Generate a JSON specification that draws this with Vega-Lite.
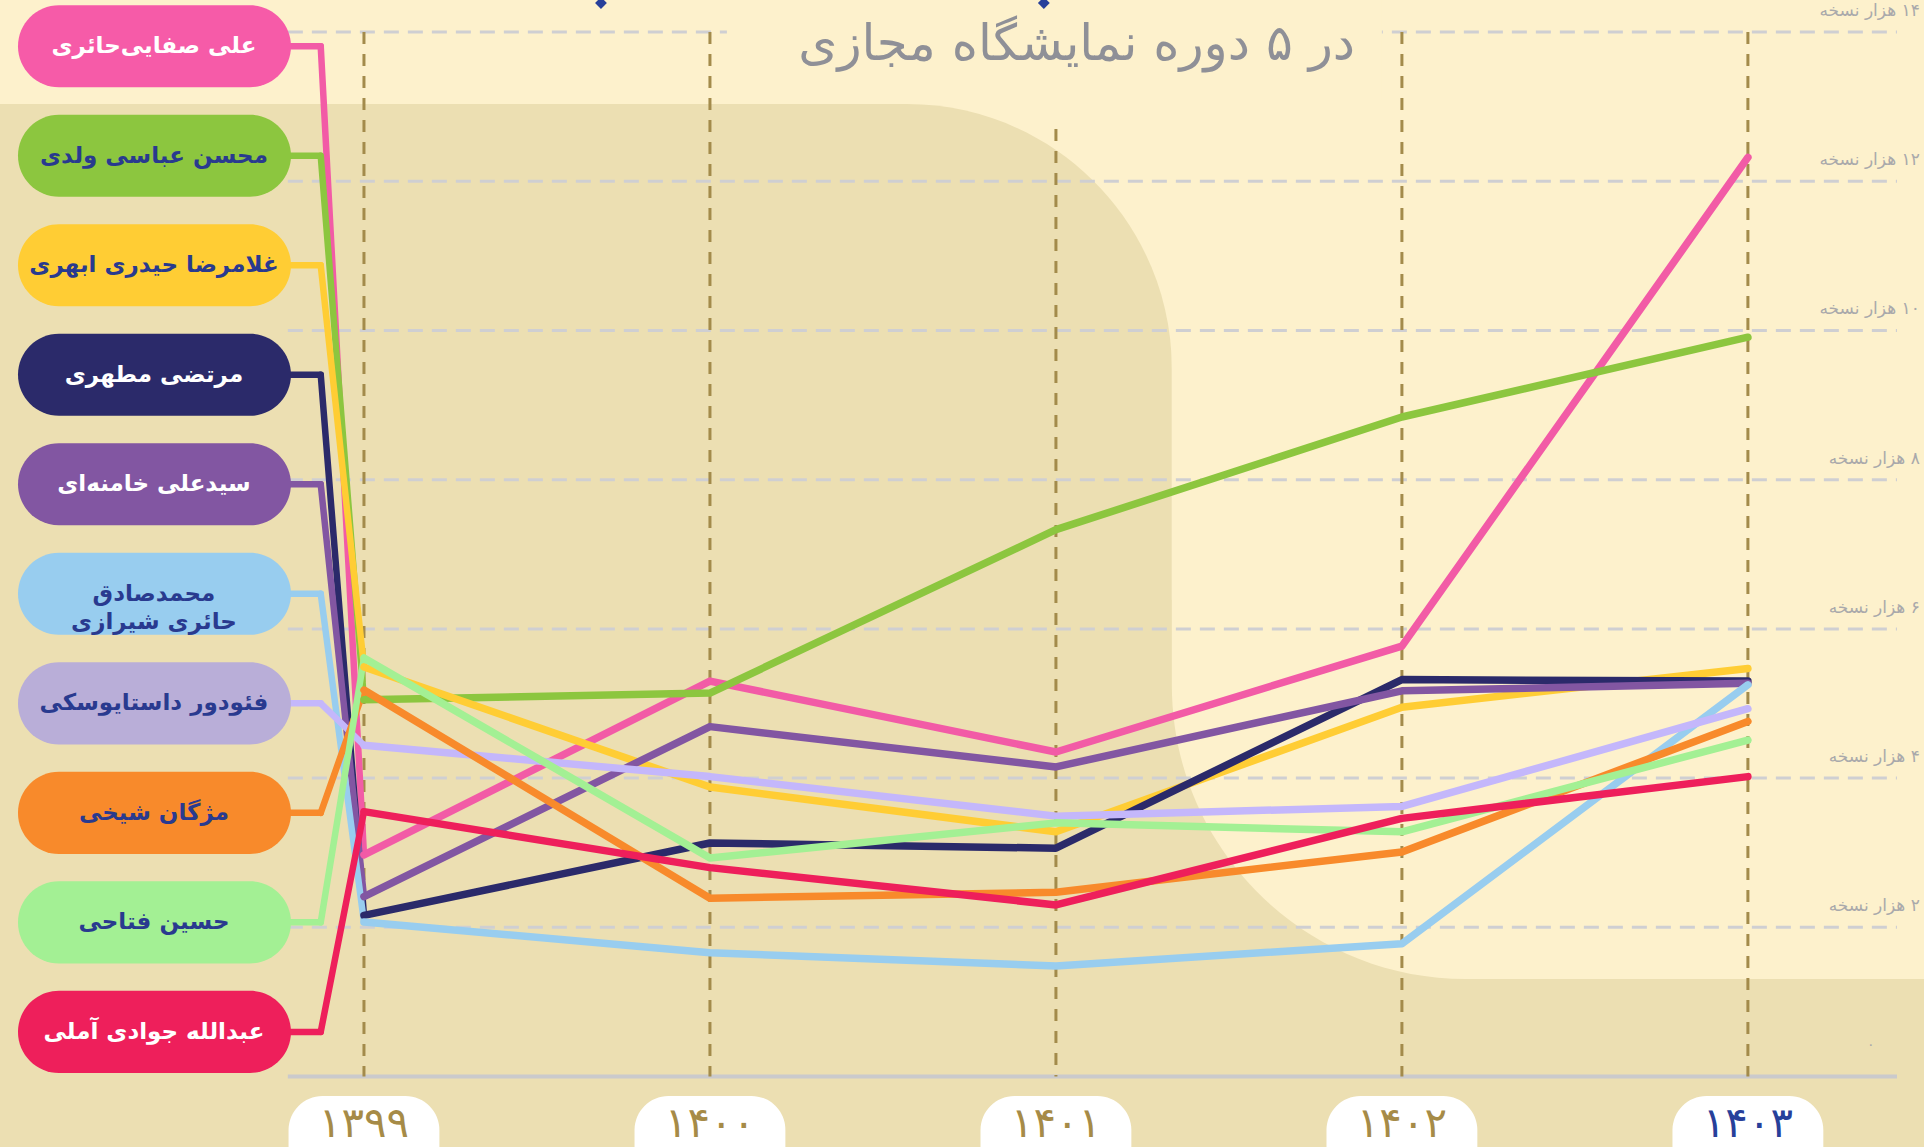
{
  "$schema": "https://vega.github.io/schema/vega-lite/v6.json",
  "width": 1924,
  "height": 1147,
  "autosize": {"type": "none"},
  "padding": 0,
  "background": "#FDF1CC",
  "config": {"view": {"stroke": null}, "font": "DejaVu Sans"},
  "datasets": {
    "authors": [
      {"author": "علی صفایی‌حائری", "order": 0, "label": "علی صفایی‌حائری"},
      {"author": "محسن عباسی ولدی", "order": 1, "label": "محسن عباسی ولدی"},
      {"author": "غلامرضا حیدری ابهری", "order": 2, "label": "غلامرضا حیدری ابهری"},
      {"author": "مرتضی مطهری", "order": 3, "label": "مرتضی مطهری"},
      {"author": "سیدعلی خامنه‌ای", "order": 4, "label": "سیدعلی خامنه‌ای"},
      {"author": "محمدصادق حائری شیرازی", "order": 5, "label": "محمدصادق\nحائری شیرازی"},
      {"author": "فئودور داستایوسکی", "order": 6, "label": "فئودور داستایوسکی"},
      {"author": "مژگان شیخی", "order": 7, "label": "مژگان شیخی"},
      {"author": "حسین فتاحی", "order": 8, "label": "حسین فتاحی"},
      {"author": "عبدالله جوادی آملی", "order": 9, "label": "عبدالله جوادی آملی"}
    ],
    "sales": [
      {"author": "علی صفایی‌حائری", "year": 1399, "copies": 2.97},
      {"author": "علی صفایی‌حائری", "year": 1400, "copies": 5.30},
      {"author": "علی صفایی‌حائری", "year": 1401, "copies": 4.35},
      {"author": "علی صفایی‌حائری", "year": 1402, "copies": 5.77},
      {"author": "علی صفایی‌حائری", "year": 1403, "copies": 12.32},
      {"author": "محسن عباسی ولدی", "year": 1399, "copies": 5.05},
      {"author": "محسن عباسی ولدی", "year": 1400, "copies": 5.14},
      {"author": "محسن عباسی ولدی", "year": 1401, "copies": 7.33},
      {"author": "محسن عباسی ولدی", "year": 1402, "copies": 8.84},
      {"author": "محسن عباسی ولدی", "year": 1403, "copies": 9.91},
      {"author": "غلامرضا حیدری ابهری", "year": 1399, "copies": 5.49},
      {"author": "غلامرضا حیدری ابهری", "year": 1400, "copies": 3.88},
      {"author": "غلامرضا حیدری ابهری", "year": 1401, "copies": 3.28},
      {"author": "غلامرضا حیدری ابهری", "year": 1402, "copies": 4.95},
      {"author": "غلامرضا حیدری ابهری", "year": 1403, "copies": 5.47},
      {"author": "مرتضی مطهری", "year": 1399, "copies": 2.16},
      {"author": "مرتضی مطهری", "year": 1400, "copies": 3.13},
      {"author": "مرتضی مطهری", "year": 1401, "copies": 3.06},
      {"author": "مرتضی مطهری", "year": 1402, "copies": 5.32},
      {"author": "مرتضی مطهری", "year": 1403, "copies": 5.30},
      {"author": "سیدعلی خامنه‌ای", "year": 1399, "copies": 2.41},
      {"author": "سیدعلی خامنه‌ای", "year": 1400, "copies": 4.69},
      {"author": "سیدعلی خامنه‌ای", "year": 1401, "copies": 4.15},
      {"author": "سیدعلی خامنه‌ای", "year": 1402, "copies": 5.17},
      {"author": "سیدعلی خامنه‌ای", "year": 1403, "copies": 5.27},
      {"author": "محمدصادق حائری شیرازی", "year": 1399, "copies": 2.07},
      {"author": "محمدصادق حائری شیرازی", "year": 1400, "copies": 1.66},
      {"author": "محمدصادق حائری شیرازی", "year": 1401, "copies": 1.48},
      {"author": "محمدصادق حائری شیرازی", "year": 1402, "copies": 1.78},
      {"author": "محمدصادق حائری شیرازی", "year": 1403, "copies": 5.25},
      {"author": "فئودور داستایوسکی", "year": 1399, "copies": 4.44},
      {"author": "فئودور داستایوسکی", "year": 1400, "copies": 4.02},
      {"author": "فئودور داستایوسکی", "year": 1401, "copies": 3.49},
      {"author": "فئودور داستایوسکی", "year": 1402, "copies": 3.62},
      {"author": "فئودور داستایوسکی", "year": 1403, "copies": 4.93},
      {"author": "مژگان شیخی", "year": 1399, "copies": 5.18},
      {"author": "مژگان شیخی", "year": 1400, "copies": 2.39},
      {"author": "مژگان شیخی", "year": 1401, "copies": 2.47},
      {"author": "مژگان شیخی", "year": 1402, "copies": 3.01},
      {"author": "مژگان شیخی", "year": 1403, "copies": 4.76},
      {"author": "حسین فتاحی", "year": 1399, "copies": 5.61},
      {"author": "حسین فتاحی", "year": 1400, "copies": 2.93},
      {"author": "حسین فتاحی", "year": 1401, "copies": 3.40},
      {"author": "حسین فتاحی", "year": 1402, "copies": 3.28},
      {"author": "حسین فتاحی", "year": 1403, "copies": 4.51},
      {"author": "عبدالله جوادی آملی", "year": 1399, "copies": 3.55},
      {"author": "عبدالله جوادی آملی", "year": 1400, "copies": 2.80},
      {"author": "عبدالله جوادی آملی", "year": 1401, "copies": 2.30},
      {"author": "عبدالله جوادی آملی", "year": 1402, "copies": 3.46},
      {"author": "عبدالله جوادی آملی", "year": 1403, "copies": 4.02}
    ],
    "years": [
      {"year": 1399, "label": "۱۳۹۹"},
      {"year": 1400, "label": "۱۴۰۰"},
      {"year": 1401, "label": "۱۴۰۱"},
      {"year": 1402, "label": "۱۴۰۲"},
      {"year": 1403, "label": "۱۴۰۳"}
    ],
    "ticks": [
      {"v": 2, "label": "‏۲ هزار نسخه"},
      {"v": 4, "label": "‏۴ هزار نسخه"},
      {"v": 6, "label": "‏۶ هزار نسخه"},
      {"v": 8, "label": "‏۸ هزار نسخه"},
      {"v": 10, "label": "‏۱۰ هزار نسخه"},
      {"v": 12, "label": "‏۱۲ هزار نسخه"},
      {"v": 14, "label": "‏۱۴ هزار نسخه"}
    ]
  },
  "layer": [
    {
      "data": {"values": [{"a": 1}]},
      "mark": {"type": "rect", "color": "#ECDFB2", "cornerRadiusTopRight": 265},
      "encoding": {
        "x": {"datum": 1397.0, "type": "quantitative", "axis": null, "scale": {"domain": [1397.948, 1403.509], "nice": false, "zero": false}},
        "x2": {"datum": 1401.335},
        "y": {"datum": 13.035, "type": "quantitative", "axis": null, "scale": {"domain": [-0.945, 14.43], "nice": false, "zero": false}},
        "y2": {"datum": -3}
      }
    },
    {
      "data": {"values": [{"a": 1}]},
      "mark": {"type": "rect", "color": "#ECDFB2"},
      "encoding": {
        "x": {"datum": 1401.3, "type": "quantitative"},
        "x2": {"datum": 1405},
        "y": {"datum": 6.39, "type": "quantitative"},
        "y2": {"datum": -3}
      }
    },
    {
      "data": {"values": [{"a": 1}]},
      "mark": {"type": "rect", "color": "#FDF1CC", "cornerRadiusBottomLeft": 294},
      "encoding": {
        "x": {"datum": 1401.335, "type": "quantitative"},
        "x2": {"datum": 1405},
        "y": {"datum": 16, "type": "quantitative"},
        "y2": {"datum": 1.307}
      }
    },
    {
      "data": {"name": "ticks"},
      "mark": {"type": "rule", "color": "#CFCFD2", "strokeWidth": 3, "strokeDash": [15, 9]},
      "encoding": {
        "x": {"datum": 1398.78, "type": "quantitative"},
        "x2": {"datum": 1403.431},
        "y": {"field": "v", "type": "quantitative"}
      }
    },
    {
      "data": {"values": [{"a": 1}]},
      "mark": {"type": "rect", "color": "#FDF1CC"},
      "encoding": {
        "x": {"datum": 1400.049, "type": "quantitative"},
        "x2": {"datum": 1401.942},
        "y": {"datum": 16, "type": "quantitative"},
        "y2": {"datum": 13.09}
      }
    },
    {
      "data": {"values": [{"a": 1}]},
      "mark": {"type": "rule", "color": "#CACACC", "strokeWidth": 4},
      "encoding": {
        "x": {"datum": 1398.78, "type": "quantitative"},
        "x2": {"datum": 1403.431},
        "y": {"datum": 0, "type": "quantitative"}
      }
    },
    {
      "data": {"name": "years"},
      "transform": [{"filter": "datum.year != 1401"}],
      "mark": {"type": "rule", "color": "#A38B4B", "strokeWidth": 3, "strokeDash": [12, 10]},
      "encoding": {
        "x": {"field": "year", "type": "quantitative"},
        "y": {"datum": 14, "type": "quantitative"},
        "y2": {"datum": 0}
      }
    },
    {
      "data": {"name": "years"},
      "transform": [{"filter": "datum.year == 1401"}],
      "mark": {"type": "rule", "color": "#A38B4B", "strokeWidth": 3, "strokeDash": [12, 10]},
      "encoding": {
        "x": {"field": "year", "type": "quantitative"},
        "y": {"datum": 12.7, "type": "quantitative"},
        "y2": {"datum": 0}
      }
    },
    {
      "data": {"name": "sales"},
      "transform": [
        {"filter": "datum.year == 1399"},
        {"lookup": "author", "from": {"data": {"name": "authors"}, "key": "author", "fields": ["order"]}},
        {"calculate": "13.81 - 1.468 * datum.order", "as": "anchor"},
        {"calculate": "1398.78", "as": "edge"},
        {"calculate": "1398.875", "as": "corner"}
      ],
      "mark": {"type": "rule", "strokeWidth": 6.5, "strokeCap": "round"},
      "encoding": {
        "x": {"field": "edge", "type": "quantitative"},
        "x2": {"field": "corner"},
        "y": {"field": "anchor", "type": "quantitative"},
        "stroke": {"field": "author", "type": "nominal", "legend": null,
          "scale": {"domain": ["علی صفایی‌حائری", "محسن عباسی ولدی", "غلامرضا حیدری ابهری", "مرتضی مطهری", "سیدعلی خامنه‌ای", "محمدصادق حائری شیرازی", "فئودور داستایوسکی", "مژگان شیخی", "حسین فتاحی", "عبدالله جوادی آملی"],
                    "range": ["#F25BA6", "#8CC63F", "#FFCD34", "#2B2A6A", "#8256A2", "#98CDEF", "#C4B7FB", "#F88A2B", "#A3F094", "#EE1F5B"]}}
      }
    },
    {
      "data": {"name": "sales"},
      "transform": [
        {"filter": "datum.year == 1399"},
        {"lookup": "author", "from": {"data": {"name": "authors"}, "key": "author", "fields": ["order"]}},
        {"calculate": "13.81 - 1.468 * datum.order", "as": "anchor"},
        {"calculate": "1398.875", "as": "corner"}
      ],
      "mark": {"type": "rule", "strokeWidth": 6.5, "strokeCap": "round"},
      "encoding": {
        "x": {"field": "corner", "type": "quantitative"},
        "x2": {"field": "year"},
        "y": {"field": "anchor", "type": "quantitative"},
        "y2": {"field": "copies"},
        "stroke": {"field": "author", "type": "nominal", "legend": null}
      }
    },
    {
      "data": {"name": "sales"},
      "mark": {"type": "line", "strokeWidth": 7.5, "strokeCap": "round", "strokeJoin": "round"},
      "encoding": {
        "x": {"field": "year", "type": "quantitative"},
        "y": {"field": "copies", "type": "quantitative"},
        "stroke": {"field": "author", "type": "nominal", "legend": null}
      }
    },
    {
      "data": {"name": "authors"},
      "transform": [
        {"calculate": "13.81 - 1.468 * datum.order + 0.55", "as": "top"},
        {"calculate": "13.81 - 1.468 * datum.order - 0.55", "as": "bot"},
        {"calculate": "1398.0", "as": "left"},
        {"calculate": "1398.789", "as": "right"}
      ],
      "mark": {"type": "rect", "cornerRadius": 41},
      "encoding": {
        "x": {"field": "left", "type": "quantitative"},
        "x2": {"field": "right"},
        "y": {"field": "top", "type": "quantitative"},
        "y2": {"field": "bot"},
        "fill": {"field": "author", "type": "nominal", "legend": null,
          "scale": {"domain": ["علی صفایی‌حائری", "محسن عباسی ولدی", "غلامرضا حیدری ابهری", "مرتضی مطهری", "سیدعلی خامنه‌ای", "محمدصادق حائری شیرازی", "فئودور داستایوسکی", "مژگان شیخی", "حسین فتاحی", "عبدالله جوادی آملی"],
                    "range": ["#F65BA8", "#8CC63F", "#FFCD34", "#2B2A6A", "#8256A2", "#98CDEF", "#B9AED8", "#F88A2B", "#A3F094", "#EE1F5B"]}}
      }
    },
    {
      "data": {"name": "authors"},
      "transform": [
        {"calculate": "13.81 - 1.468 * datum.order", "as": "anchor"},
        {"calculate": "1398.393", "as": "mid"}
      ],
      "mark": {"type": "text", "fontSize": 23, "fontWeight": "bold", "align": "center", "baseline": "middle", "lineBreak": "\n", "lineHeight": 28, "color": "#293A8F"},
      "encoding": {
        "x": {"field": "mid", "type": "quantitative"},
        "y": {"field": "anchor", "type": "quantitative"},
        "text": {"field": "label", "type": "nominal"},
        "color": {"condition": {"test": "datum.order == 0 || datum.order == 3 || datum.order == 4 || datum.order == 9", "value": "#FFFFFF"}, "value": "#293A8F"}
      }
    },
    {
      "data": {"name": "years"},
      "transform": [
        {"calculate": "datum.year - 0.218", "as": "x1"},
        {"calculate": "datum.year + 0.218", "as": "x2"}
      ],
      "mark": {"type": "rect", "color": "#FFFFFF", "cornerRadius": 34},
      "encoding": {
        "x": {"field": "x1", "type": "quantitative"},
        "x2": {"field": "x2"},
        "y": {"datum": -0.26, "type": "quantitative"},
        "y2": {"datum": -2}
      }
    },
    {
      "data": {"name": "years"},
      "mark": {"type": "text", "fontSize": 42, "align": "center", "baseline": "middle"},
      "encoding": {
        "x": {"field": "year", "type": "quantitative"},
        "y": {"datum": -0.64, "type": "quantitative"},
        "text": {"field": "label", "type": "nominal"},
        "color": {"condition": {"test": "datum.year == 1403", "value": "#27409A"}, "value": "#A68B47"}
      }
    },
    {
      "data": {"name": "ticks"},
      "mark": {"type": "text", "fontSize": 17, "align": "right", "baseline": "middle", "dy": -21, "color": "#A9A9AB"},
      "encoding": {
        "x": {"datum": 1403.497, "type": "quantitative"},
        "y": {"field": "v", "type": "quantitative"},
        "text": {"field": "label", "type": "nominal"}
      }
    },
    {
      "data": {"values": [{"label": "۰"}]},
      "mark": {"type": "text", "fontSize": 14, "align": "center", "baseline": "middle", "color": "#A9A9AB"},
      "encoding": {
        "x": {"datum": 1403.355, "type": "quantitative"},
        "y": {"datum": 0.42, "type": "quantitative"},
        "text": {"field": "label", "type": "nominal"}
      }
    },
    {
      "data": {"values": [{"a": 1}]},
      "mark": {"type": "point", "shape": "diamond", "filled": true, "size": 140, "color": "#27409A", "opacity": 1},
      "encoding": {
        "x": {"datum": 1399.685, "type": "quantitative"},
        "y": {"datum": 14.39, "type": "quantitative"}
      }
    },
    {
      "data": {"values": [{"a": 1}]},
      "mark": {"type": "point", "shape": "diamond", "filled": true, "size": 140, "color": "#27409A", "opacity": 1},
      "encoding": {
        "x": {"datum": 1400.965, "type": "quantitative"},
        "y": {"datum": 14.39, "type": "quantitative"}
      }
    },
    {
      "data": {"values": [{"label": "در ۵ دوره نمایشگاه مجازی"}]},
      "mark": {"type": "text", "fontSize": 50, "align": "center", "baseline": "middle", "color": "#8F9097"},
      "encoding": {
        "x": {"datum": 1401.06, "type": "quantitative"},
        "y": {"datum": 13.83, "type": "quantitative"},
        "text": {"field": "label", "type": "nominal"}
      }
    }
  ]
}
